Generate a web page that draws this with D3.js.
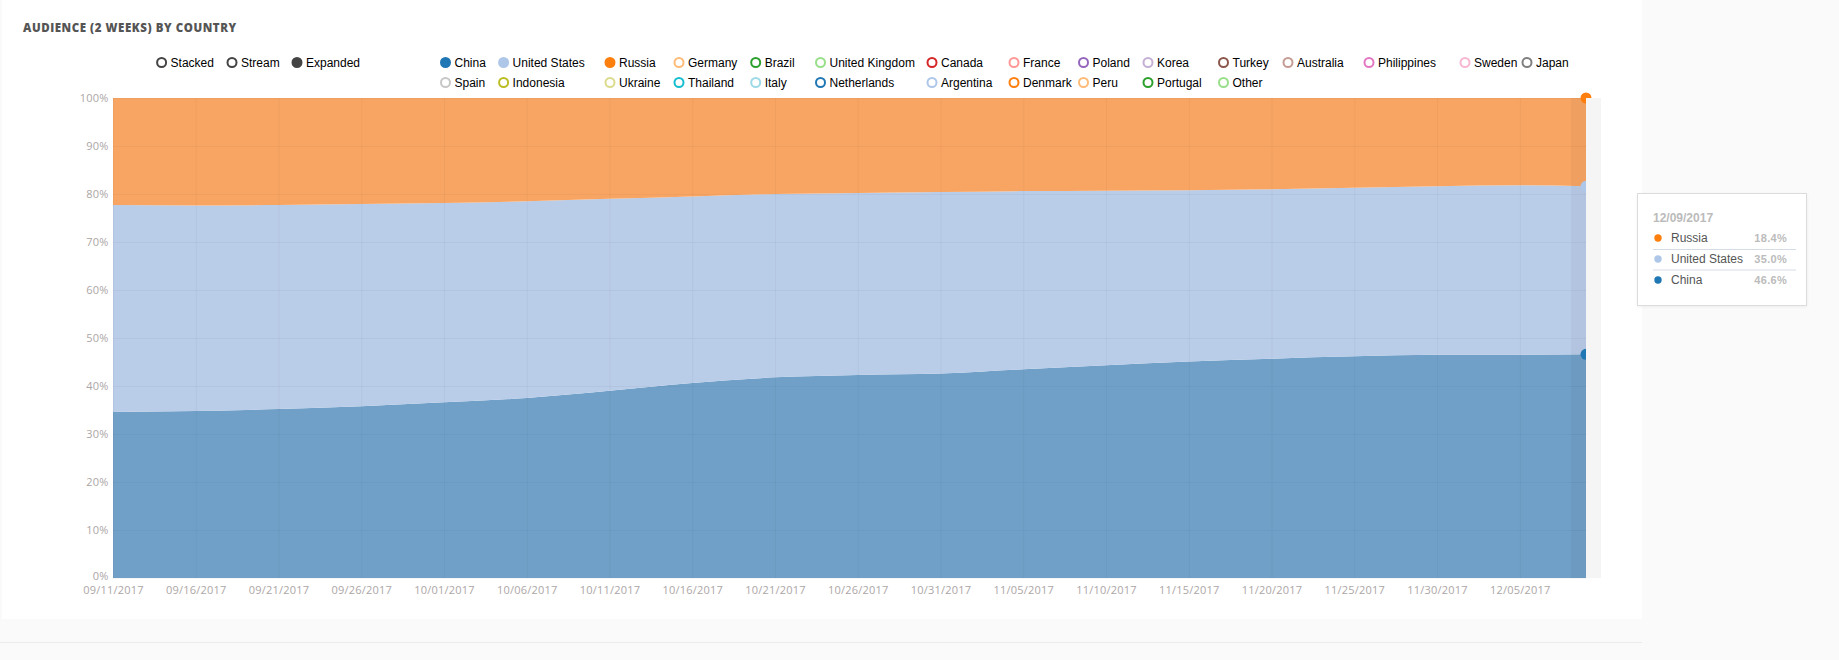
<!DOCTYPE html>
<html>
<head>
<meta charset="utf-8">
<script src="https://cdn.jsdelivr.net/npm/d3@7"></script>
<style>
  html, body { margin: 0; padding: 0; background: #fafafa; }
  body { width: 1839px; height: 660px; overflow: hidden; position: relative; }
  svg { position: absolute; left: 0; top: 0; }
  .tip {
    position: absolute; left: 1637px; top: 193px; width: 168px; height: 111px;
    background: #fff; border: 1px solid #dcdcdc; box-shadow: 0 1px 3px rgba(0,0,0,0.06);
    font-family: 'Liberation Sans', Arial, sans-serif;
  }
</style>
</head>
<body>
<script>
/* global d3 */
(function() {
  'use strict';

  // data (share of audience, %)
  const dates = ['09/11/2017', '09/16/2017', '09/21/2017', '09/26/2017', '10/01/2017', '10/06/2017',
    '10/11/2017', '10/16/2017', '10/21/2017', '10/26/2017', '10/31/2017', '11/05/2017', '11/10/2017',
    '11/15/2017', '11/20/2017', '11/25/2017', '11/30/2017', '12/05/2017', '12/09/2017'];
  const china = [34.6, 34.8, 35.2, 35.8, 36.6, 37.5, 39.0, 40.6, 41.8, 42.3, 42.6, 43.5, 44.3,
    45.1, 45.7, 46.2, 46.5, 46.5, 46.6];
  const unitedStates = [43.1, 42.8, 42.5, 42.1, 41.5, 41.0, 40.0, 38.9, 38.2, 37.9, 37.8, 37.1, 36.4,
    35.7, 35.3, 35.1, 35.1, 35.3, 35.0];
  const russia = [22.3, 22.4, 22.3, 22.1, 21.9, 21.5, 21.0, 20.5, 20.0, 19.8, 19.6, 19.4, 19.3,
    19.2, 19.0, 18.7, 18.4, 18.2, 18.4];

  const countries = ['China', 'United States', 'Russia', 'Germany', 'Brazil', 'United Kingdom', 'Canada',
    'France', 'Poland', 'Korea', 'Turkey', 'Australia', 'Philippines', 'Sweden', 'Japan',
    'Spain', 'Indonesia', 'Ukraine', 'Thailand', 'Italy', 'Netherlands', 'Argentina', 'Denmark',
    'Peru', 'Portugal', 'Other'];
  const enabled = ['China', 'United States', 'Russia'];
  const controls = ['Stacked', 'Stream', 'Expanded'];
  const activeControl = 'Expanded';
  const yTicks = [0, 0.1, 0.2, 0.3, 0.4, 0.5, 0.6, 0.7, 0.8, 0.9, 1];
  const xTickLabels = dates.slice(0, 18);
  const title = 'AUDIENCE (2 WEEKS) BY COUNTRY';

  // styles
  const palette = ['#1f77b4', '#aec7e8', '#ff7f0e', '#ffbb78', '#2ca02c', '#98df8a', '#d62728',
    '#ff9896', '#9467bd', '#c5b0d5', '#8c564b', '#c49c94', '#e377c2', '#f7b6d2', '#7f7f7f',
    '#c7c7c7', '#bcbd22', '#dbdb8d', '#17becf', '#9edae5'];
  const areaFill = { 'China': '#70a0c8', 'United States': '#b9cce8', 'Russia': '#f8a563' };
  const colour = (name) => palette[countries.indexOf(name) % palette.length];

  const w = 1839;
  const h = 660;
  const plot = { left: 113, right: 1586, top: 98, bottom: 578 };
  const legendColX = [445.5, 503.6, 610, 679, 755.7, 820.5, 932, 1014, 1083.5, 1148, 1223.5,
    1288, 1369, 1465, 1527];
  const legendRowY = [62.5, 82.5];
  const controlX = [161.6, 232, 297];

  const parse = d3.timeParse('%m/%d/%Y');
  const fmt = d3.timeFormat('%m/%d/%Y');
  const rows = dates.map((d, i) => ({
    date: parse(d),
    'China': china[i],
    'United States': unitedStates[i],
    'Russia': russia[i]
  }));

  const stack = d3.stack().keys(enabled).offset(d3.stackOffsetExpand);
  const layers = stack(rows);

  const xScale = d3.scaleTime()
    .domain(d3.extent(rows, (d) => d.date))
    .range([plot.left, plot.right]);
  const yScale = d3.scaleLinear()
    .domain([0, 1])
    .range([plot.bottom, plot.top]);

  const svg = d3.select('body')
    .append('svg')
    .attr('width', w)
    .attr('height', h);

  // card
  svg.append('rect').attr('x', 2).attr('y', 0).attr('width', 1640).attr('height', 619).attr('fill', '#fff');
  svg.append('line').attr('x1', 0).attr('x2', 1642).attr('y1', 642.5).attr('y2', 642.5)
    .attr('stroke', '#ebebeb');

  svg.append('text')
    .attr('x', 23).attr('y', 32)
    .attr('font-family', "'Open Sans', sans-serif")
    .attr('font-weight', 800)
    .attr('font-size', 11.5)
    .attr('letter-spacing', 0.55)
    .attr('fill', '#555')
    .text(title);

  // areas
  const area = d3.area()
    .x((d) => xScale(d.data.date))
    .y0((d) => yScale(d[0]))
    .y1((d) => yScale(d[1]))
    .curve(d3.curveMonotoneX);

  svg.append('g').selectAll('path')
    .data(layers)
    .enter()
    .append('path')
    .attr('d', area)
    .attr('fill', (d) => areaFill[d.key]);

  // grid on top, very faint
  const xTicks = xTickLabels.map(parse);
  const grid = svg.append('g').attr('stroke', 'rgba(0,0,0,0.035)');
  grid.selectAll('.vx')
    .data(xTicks)
    .enter()
    .append('line')
    .attr('x1', (d) => xScale(d) + 0.5).attr('x2', (d) => xScale(d) + 0.5)
    .attr('y1', plot.top).attr('y2', plot.bottom);
  grid.selectAll('.hy')
    .data(yTicks)
    .enter()
    .append('line')
    .attr('x1', plot.left).attr('x2', plot.right)
    .attr('y1', (d) => yScale(d) + 0.5).attr('y2', (d) => yScale(d) + 0.5);

  // hover band on last point
  const last = rows[rows.length - 1];
  const bandLeft = xScale(d3.timeDay.offset(last.date, -1)) + 1.5;
  svg.append('rect')
    .attr('x', bandLeft).attr('y', plot.top)
    .attr('width', xScale(last.date) - bandLeft).attr('height', plot.bottom - plot.top)
    .attr('fill', '#000').attr('opacity', 0.035);

  // highlighted points
  svg.append('g').selectAll('circle')
    .data(layers)
    .enter()
    .append('circle')
    .attr('cx', xScale(last.date))
    .attr('cy', (d) => yScale(d[d.length - 1][1]))
    .attr('r', 5.5)
    .attr('fill', (d) => colour(d.key));

  svg.append('rect')
    .attr('x', plot.right).attr('y', plot.top)
    .attr('width', 15).attr('height', plot.bottom - plot.top)
    .attr('fill', '#f5f5f5');

  // axes
  const xAxis = d3.axisBottom(xScale).tickValues(xTicks).tickFormat(fmt).tickSize(0).tickPadding(7);
  const gx = svg.append('g')
    .attr('id', 'x-axis')
    .attr('transform', 'translate(0,' + (plot.bottom + 1) + ')')
    .call(xAxis);
  const yAxis = d3.axisLeft(yScale).tickValues(yTicks).tickFormat(d3.format('.0%')).tickSize(0).tickPadding(4);
  const gy = svg.append('g')
    .attr('id', 'y-axis')
    .attr('transform', 'translate(' + (plot.left - 0.5) + ',0)')
    .call(yAxis);
  [gx, gy].forEach(function(g) {
    g.select('.domain').remove();
    g.selectAll('text')
      .attr('font-family', "'Open Sans', sans-serif")
      .attr('font-size', 11)
      .attr('letter-spacing', 0.2)
      .attr('fill', '#aca6a6');
  });
  // keep the 0% label clear of the first date label
  gy.selectAll('.tick text').filter((d) => d === 0).attr('dy', '0.1em');

  // controls
  const ctrl = svg.append('g')
    .attr('font-family', "'Liberation Sans', Arial, sans-serif")
    .attr('font-size', 12);
  const ci = ctrl.selectAll('g')
    .data(controls)
    .enter()
    .append('g')
    .attr('transform', (d, i) => 'translate(' + controlX[i] + ',' + legendRowY[0] + ')');
  ci.append('circle')
    .attr('r', 4.5)
    .attr('fill', (d) => d === activeControl ? '#444' : '#fff')
    .attr('stroke', '#444')
    .attr('stroke-width', 2);
  ci.append('text').attr('x', 9).attr('dy', '0.34em').attr('fill', '#000').text((d) => d);

  // legend
  const leg = svg.append('g')
    .attr('font-family', "'Liberation Sans', Arial, sans-serif")
    .attr('font-size', 12);
  const li = leg.selectAll('g')
    .data(countries)
    .enter()
    .append('g')
    .attr('transform', (d, i) => 'translate(' + legendColX[i % 15] + ',' + legendRowY[Math.floor(i / 15)] + ')');
  li.append('circle')
    .attr('r', 4.5)
    .attr('fill', (d) => enabled.includes(d) ? colour(d) : '#fff')
    .attr('stroke', (d) => colour(d))
    .attr('stroke-width', 2);
  li.append('text').attr('x', 9).attr('dy', '0.34em').attr('fill', '#000').text((d) => d);

  // tooltip
  const tip = d3.select('body').append('div').attr('class', 'tip');
  const tsvg = tip.append('svg').attr('width', 168).attr('height', 111);
  tsvg.append('text')
    .attr('x', 15).attr('y', 28)
    .attr('font-weight', 700).attr('font-size', 12).attr('fill', '#bbb')
    .text(fmt(last.date));
  const tipRows = enabled.slice().reverse();
  const tr = tsvg.selectAll('.row')
    .data(tipRows)
    .enter()
    .append('g')
    .attr('transform', (d, i) => 'translate(0,' + (44 + i * 21) + ')');
  tr.append('circle').attr('cx', 20).attr('cy', 0).attr('r', 3.7).attr('fill', (d) => colour(d));
  tr.append('text').attr('x', 33).attr('dy', '0.35em').attr('font-size', 12).attr('fill', '#555')
    .text((d) => d);
  tr.append('text').attr('x', 149).attr('dy', '0.35em').attr('text-anchor', 'end')
    .attr('font-weight', 700).attr('font-size', 11).attr('letter-spacing', 0.3).attr('fill', '#bbb')
    .text((d) => d3.format('.1f')(last[d]) + '%');
  tsvg.selectAll('.sep')
    .data([0, 1])
    .enter()
    .append('line')
    .attr('x1', 15).attr('x2', 158)
    .attr('y1', (d) => 55.5 + d * 20.5).attr('y2', (d) => 55.5 + d * 20.5)
    .attr('stroke', '#d6dce6');
}());
</script>
</body>
</html>
